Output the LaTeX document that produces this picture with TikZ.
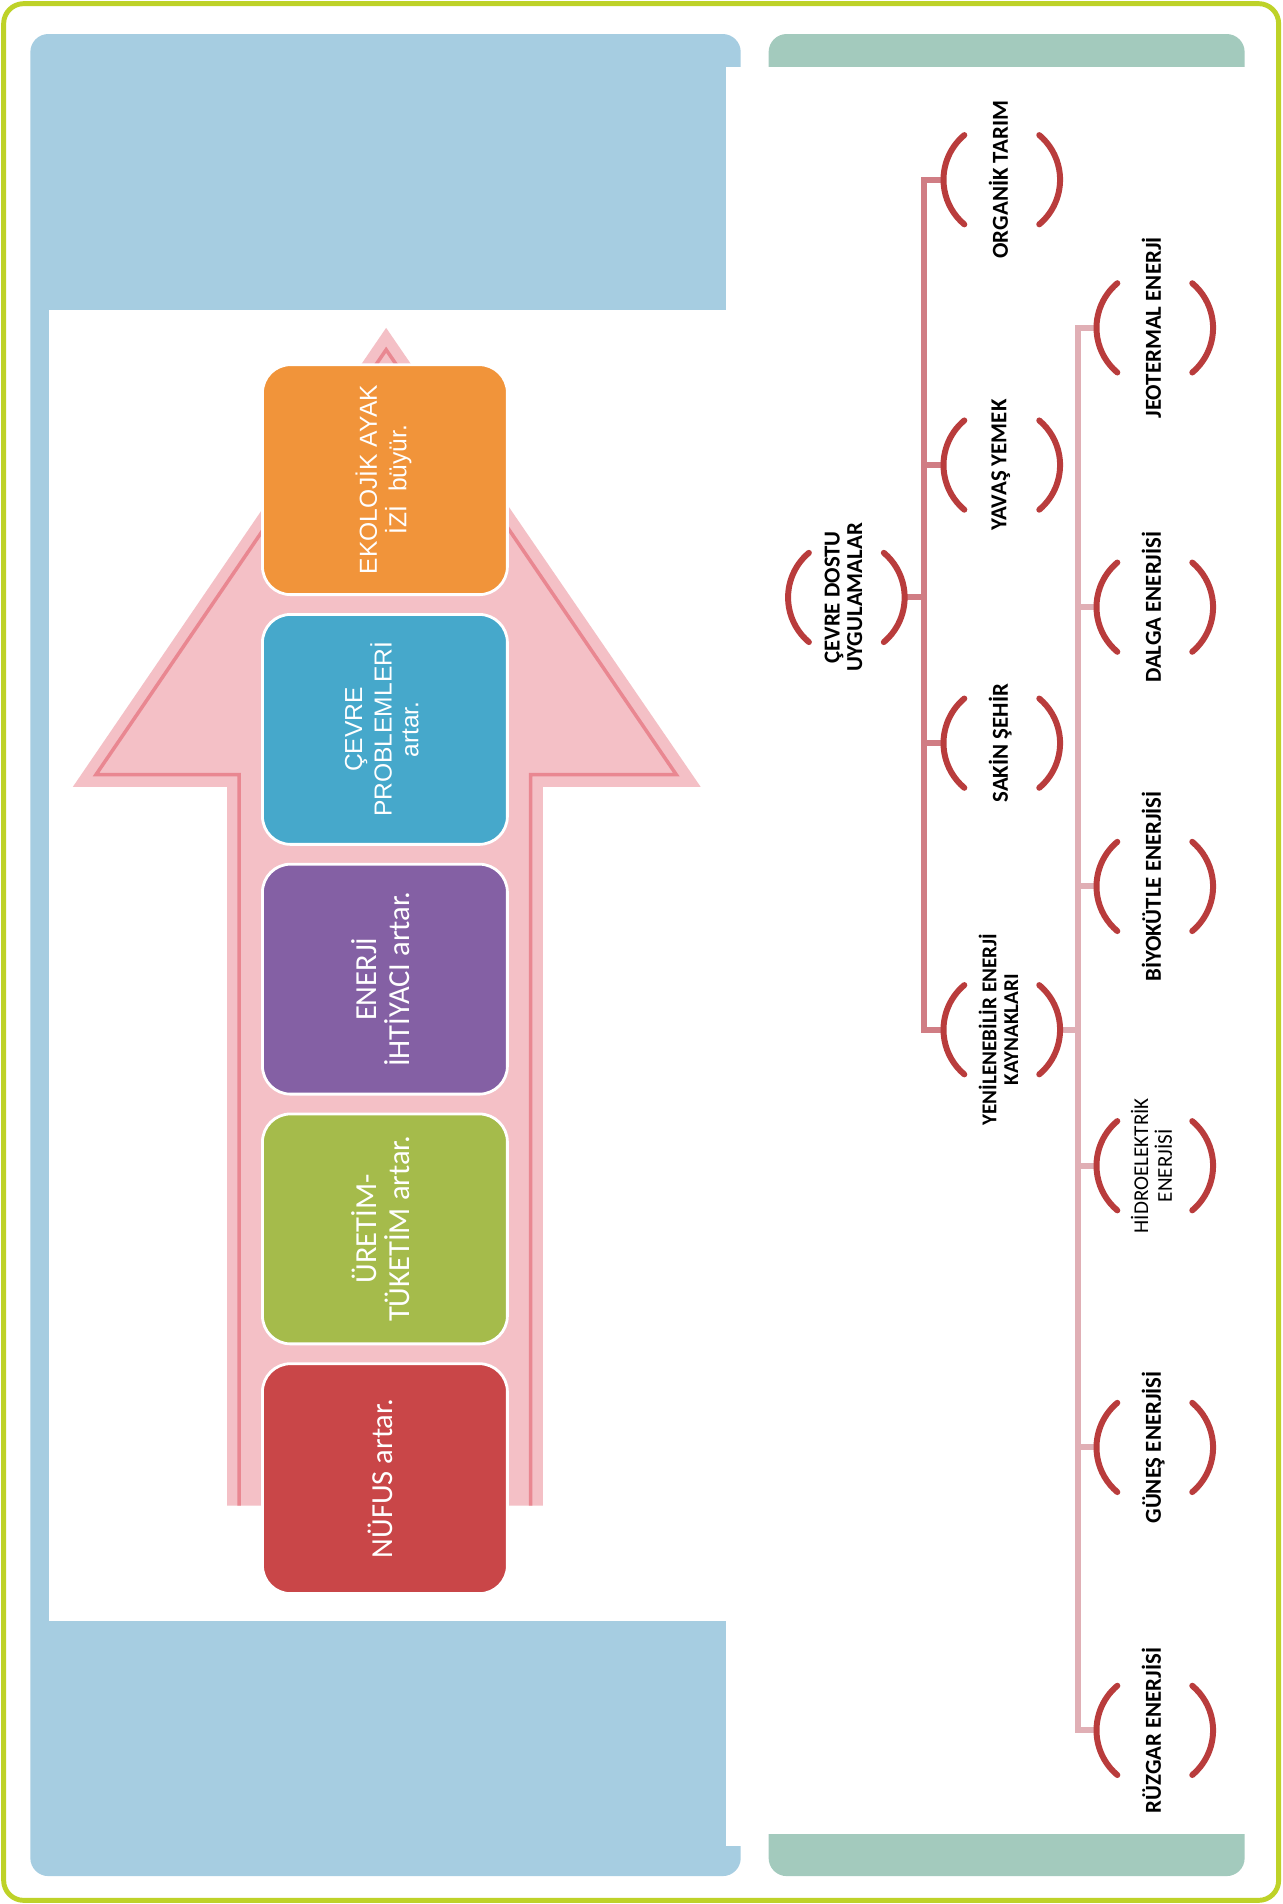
\documentclass[tikz,border=0pt]{standalone}
\usepackage{fontspec}
\setmainfont{Liberation Sans}
\newfontfamily\condfont{Carlito}
\usetikzlibrary{positioning,calc}
\definecolor{framelime}{RGB}{190,210,40}
\definecolor{panelblue}{RGB}{166,205,225}
\definecolor{paneltab}{RGB}{163,202,189}
\definecolor{arrowpink}{RGB}{244,192,198}
\definecolor{arrowline}{RGB}{233,135,145}
\definecolor{boxred}{RGB}{201,70,72}
\definecolor{boxgreen}{RGB}{165,187,75}
\definecolor{boxpurple}{RGB}{132,96,164}
\definecolor{boxblue}{RGB}{70,168,203}
\definecolor{boxorange}{RGB}{241,148,58}
\definecolor{bracketred}{RGB}{185,60,60}
\definecolor{linkdark}{RGB}{208,125,132}
\definecolor{linklight}{RGB}{224,175,181}
\tikzset{
  x = 0.01214cm,
  y = -0.01214cm,
  stage/.style={
    draw            = white,
    line width      = 0.8pt,
    rounded corners = 8pt,
    minimum width   = 2.45cm,
    minimum height  = 2.30cm,
    inner sep       = 0pt,
    text            = white,
    font            = \condfont\fontsize{8.7}{8}\selectfont},
  leaf/.style={
    minimum width  = 1.166cm,
    minimum height = 1cm,
    inner sep      = 0pt,
    font           = \condfont\bfseries\fontsize{6.5}{6.4}\selectfont},
  bracket/.style={
    draw       = bracketred,
    line width = 1.7pt,
    line cap   = round},
  linkA/.style={draw=linkdark,  line width=1.7pt},
  linkB/.style={draw=linklight, line width=1.7pt}
}
\newcommand\vtext[1]{\rotatebox{90}{\begin{tabular}{@{}c@{}}#1\end{tabular}}}
\newcommand\brackets[1]{%
  \draw[bracket] ([shift={(130:0.583cm)}]#1.center)
    arc[start angle=130, end angle=230, radius=0.583cm];
  \draw[bracket] ([shift={(-50:0.583cm)}]#1.center)
    arc[start angle=-50, end angle=50, radius=0.583cm];}

\begin{document}
\begin{tikzpicture}
\useasboundingbox (0,0) rectangle (1056,1568);

% panels
\fill[panelblue, rounded corners=0.18cm] (25,28) rectangle (610,1545);
\fill[white] (598,55) rectangle (612,1520);
\fill[white] (40,255) rectangle (598,1335);
\fill[paneltab, rounded corners=0.18cm] (633,28) rectangle (1025,1545);
\fill[white] (632,55) rectangle (1026,1510);
\draw[framelime, line width=1.4pt, rounded corners=0.2cm] (3,3) rectangle (1053,1565);

% big arrow
\fill[arrowpink] (187,1240) -- (187,648) -- (60,648) -- (318,270)
  -- (577,648) -- (447,648) -- (447,1240) -- cycle;
\draw[arrowline, line width=1pt] (197,1240) -- (197,638) -- (79,638)
  -- (318,288) -- (557,638) -- (437,638) -- (437,1240);

\node[stage, fill=boxorange, font=\fontsize{7}{7.6}\selectfont] (eko) at (317,395)
      {\vtext{EKOLOJİK AYAK\\İZİ\ \ büyür.}};
\node[stage, fill=boxblue, font=\fontsize{7}{7.6}\selectfont, below=0.17cm of eko] (cevre)
      {\vtext{ÇEVRE\\PROBLEMLERİ\\artar.}};
\node[stage, fill=boxpurple, below=0.17cm of cevre] (enerji)
      {\vtext{ENERJİ\\İHTİYACI artar.}};
\node[stage, fill=boxgreen, below=0.17cm of enerji] (uretim)
      {\vtext{ÜRETİM-\\TÜKETİM artar.}};
\node[stage, fill=boxred, below=0.17cm of uretim] (nufus)
      {\vtext{NÜFUS artar.}};

% hierarchy
\node[leaf] (root) at (697,492) {\vtext{ÇEVRE DOSTU\\UYGULAMALAR}};
\node[leaf] (organik) at (825,148) {\vtext{ORGANİK TARIM}};
\node[leaf] (yavas)   at (825,383) {\vtext{YAVAŞ YEMEK}};
\node[leaf] (sakin)   at (825,612) {\vtext{SAKİN ŞEHİR}};
\node[leaf, font=\condfont\bfseries\fontsize{6}{6.2}\selectfont] (yenilenebilir) at (825,848)
      {\vtext{YENİLENEBİLİR ENERJİ\\KAYNAKLARI}};

\node[leaf] (jeo)    at (951,270)  {\vtext{JEOTERMAL ENERJİ}};
\node[leaf] (dalga)  at (951,500)  {\vtext{DALGA ENERJİSİ}};
\node[leaf] (biyo)   at (951,730)  {\vtext{BİYOKÜTLE ENERJİSİ}};
\node[leaf, font=\condfont\fontsize{6}{6.4}\selectfont] (hidro) at (951,960)
      {\vtext{HİDROELEKTRİK\\ENERJİSİ}};
\node[leaf] (gunes)  at (951,1192) {\vtext{GÜNEŞ ENERJİSİ}};
\node[leaf] (ruzgar) at (951,1425) {\vtext{RÜZGAR ENERJİSİ}};

\draw[linkA] (root.east) -- ++(15,0) |- (organik.west);
\draw[linkA] (root.east) -- ++(15,0) |- (yavas.west);
\draw[linkA] (root.east) -- ++(15,0) |- (sakin.west);
\draw[linkA] (root.east) -- ++(15,0) |- (yenilenebilir.west);

\draw[linkB] (yenilenebilir.east) -- ++(14,0) |- (jeo.west);
\draw[linkB] (yenilenebilir.east) -- ++(14,0) |- (dalga.west);
\draw[linkB] (yenilenebilir.east) -- ++(14,0) |- (biyo.west);
\draw[linkB] (yenilenebilir.east) -- ++(14,0) |- (hidro.west);
\draw[linkB] (yenilenebilir.east) -- ++(14,0) |- (gunes.west);
\draw[linkB] (yenilenebilir.east) -- ++(14,0) |- (ruzgar.west);

\brackets{root}
\brackets{organik}
\brackets{yavas}
\brackets{sakin}
\brackets{yenilenebilir}
\brackets{jeo}
\brackets{dalga}
\brackets{biyo}
\brackets{hidro}
\brackets{gunes}
\brackets{ruzgar}

\end{tikzpicture}
\end{document}
